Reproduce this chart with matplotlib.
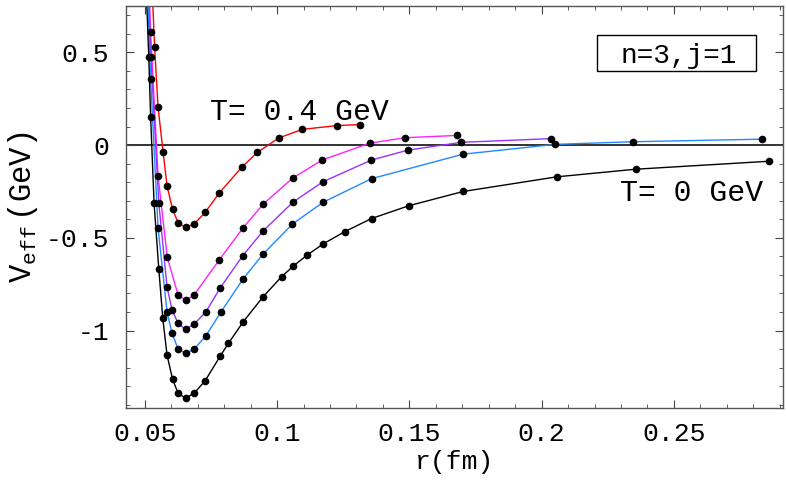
import matplotlib
matplotlib.use("Agg")
import matplotlib.pyplot as plt
from matplotlib.patches import Rectangle
from matplotlib.ticker import MultipleLocator

plt.rcParams['font.family'] = ['Liberation Mono', 'DejaVu Sans Mono']
plt.rcParams['mathtext.fontset'] = 'custom'
plt.rcParams['mathtext.rm'] = 'Liberation Mono'
plt.rcParams['mathtext.it'] = 'Liberation Mono'
plt.rcParams['axes.unicode_minus'] = False

# potentials, r in fm, V in GeV (T = 0.4 ... 0 GeV)
r_red = [0.0520, 0.0537, 0.0550, 0.0569, 0.0584, 0.0605, 0.0626, 0.0654, 0.0686,
         0.0728, 0.0782, 0.0868, 0.0926, 0.1006, 0.1096, 0.1226, 0.1314]
v_red = [1.105, 0.530, 0.206, -0.036, -0.219, -0.347, -0.418, -0.444, -0.426,
         -0.363, -0.257, -0.117, -0.039, 0.038, 0.085, 0.105, 0.111]

r_mag = [0.0515, 0.0522, 0.0550, 0.0585, 0.0626, 0.0654, 0.0686, 0.0782, 0.0870,
         0.0947, 0.1059, 0.1171, 0.1350, 0.1485, 0.1680]
v_mag = [0.889, 0.608, -0.165, -0.606, -0.809, -0.836, -0.809, -0.618, -0.449,
         -0.319, -0.178, -0.080, 0.010, 0.040, 0.052]

r_pur = [0.0512, 0.0523, 0.0553, 0.0584, 0.0603, 0.0626, 0.0654, 0.0686, 0.0731,
         0.0785, 0.0870, 0.0947, 0.1059, 0.1173, 0.1356, 0.1495, 0.1697, 0.2036]
v_pur = [0.889, 0.476, -0.314, -0.764, -0.889, -0.961, -0.994, -0.966, -0.899,
         -0.770, -0.597, -0.463, -0.309, -0.198, -0.081, -0.027, 0.015, 0.035]

r_blu = [0.0509, 0.0522, 0.0550, 0.0584, 0.0603, 0.0626, 0.0654, 0.0686, 0.0731,
         0.0787, 0.0872, 0.0947, 0.1058, 0.1173, 0.1357, 0.1703, 0.2052, 0.2344,
         0.2833]
v_blu = [0.889, 0.357, -0.446, -0.899, -1.015, -1.101, -1.123, -1.101, -1.028,
         -0.902, -0.721, -0.588, -0.426, -0.309, -0.181, -0.049, 0.004, 0.018,
         0.032]

r_blk = [0.0504, 0.0515, 0.0522, 0.0535, 0.0553, 0.0568, 0.0584, 0.0605, 0.0626,
         0.0654, 0.0686, 0.0728, 0.0786, 0.0816, 0.0872, 0.0947, 0.1017, 0.1060,
         0.1113, 0.1175, 0.1257, 0.1357, 0.1498, 0.1704, 0.2058, 0.2356, 0.2861]
v_blk = [0.889, 0.476, 0.153, -0.314, -0.670, -0.934, -1.132, -1.263, -1.339,
         -1.364, -1.339, -1.271, -1.136, -1.069, -0.953, -0.818, -0.710, -0.654,
         -0.594, -0.532, -0.466, -0.396, -0.327, -0.250, -0.171, -0.130, -0.087]

curves = [(r_red, v_red, '#ff0000'), (r_mag, v_mag, '#ff20ff'),
          (r_pur, v_pur, '#9a30ff'), (r_blu, v_blu, '#2088ff'),
          (r_blk, v_blk, '#000000')]

fig = plt.figure(figsize=(7.86, 4.86), dpi=100)
ax = fig.add_axes([0.160, 0.160, 0.836, 0.828])

ax.axhline(0, color='#222222', lw=1.3, zorder=1)
for r, v, c in curves:
  ax.plot(r, v, color=c, lw=1.0, zorder=2)
for r, v, c in curves:
  ax.plot(r, v, 'o', color='black', ms=4.5, zorder=3)

ax.set_xlim(0.0428, 0.2912)
ax.set_ylim(-1.419, 0.751)
ax.xaxis.set_minor_locator(MultipleLocator(0.01))
ax.yaxis.set_minor_locator(MultipleLocator(0.1))
ax.set_xticks([0.05, 0.1, 0.15, 0.2, 0.25])
ax.set_xticklabels(['0.05', '0.1', '0.15', '0.2', '0.25'])
ax.set_yticks([-1, -0.5, 0, 0.5])
ax.set_yticklabels(['-1', '-0.5', '0', '0.5'])
ax.tick_params(which='both', direction='in', top=True, right=True,
               labelsize=19, color='#444444')
ax.tick_params(which='major', length=6, width=0.8)
ax.tick_params(which='minor', length=3, width=0.6)
ax.tick_params(axis='x', pad=10)
ax.tick_params(axis='y', pad=12)
for s in ax.spines.values():
  s.set_color('#555555')
  s.set_linewidth(1.0)

ax.set_xlabel('r(fm)', fontsize=19, labelpad=3)
ax.set_ylabel(r'$\mathrm{V}_{\mathrm{eff}}\;\mathrm{(GeV)}$', fontsize=22,
              labelpad=4)

ax.text(0.0745, 0.135, 'T= 0.4 GeV', fontsize=21.5, ha='left', va='baseline')
ax.text(0.2295, -0.300, 'T= 0 GeV', fontsize=21.5, ha='left', va='baseline')

ax.add_patch(Rectangle((0.7164, 0.8386), 0.2425, 0.0886, transform=ax.transAxes,
                       fill=False, edgecolor='black', lw=1.0, zorder=4))
ax.text(0.842, 0.8584, 'n=3,j=1', fontsize=20, ha='center', va='baseline',
        transform=ax.transAxes)

fig.savefig('out.png', dpi=100)
